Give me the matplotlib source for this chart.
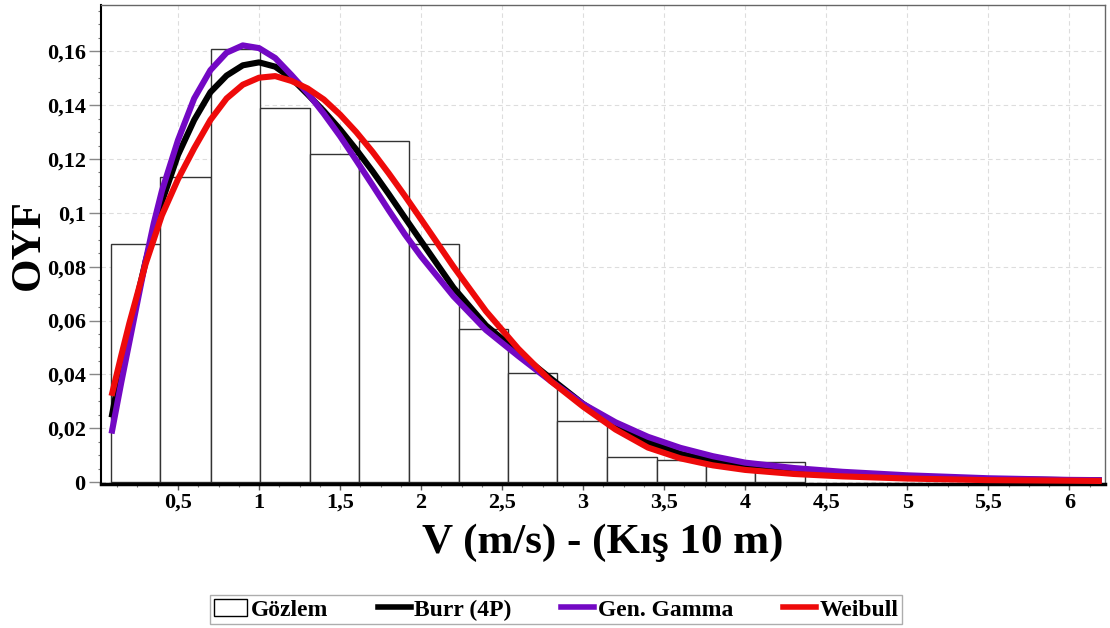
import matplotlib
matplotlib.use("Agg")
import matplotlib.pyplot as plt
from matplotlib.ticker import MultipleLocator, FuncFormatter
from matplotlib.patches import Patch
from matplotlib.lines import Line2D
import numpy as np

plt.rcParams['font.family'] = ['Liberation Serif', 'DejaVu Serif']
plt.rcParams['font.weight'] = 'bold'

# histogram (observed relative frequencies)
bin_edges = [0.086, 0.391, 0.702, 1.008, 1.313, 1.617, 1.928, 2.233,
             2.535, 2.837, 3.146, 3.453, 3.757, 4.062, 4.366]
observed = [0.0886, 0.1133, 0.1609, 0.1390, 0.1218, 0.1267, 0.0886,
            0.0568, 0.0405, 0.0225, 0.0093, 0.0080, 0.0060, 0.0074]

# fitted curves, values
x_fit = [0.09, 0.15, 0.2, 0.25, 0.3, 0.35, 0.4, 0.5, 0.6, 0.7, 0.8, 0.9,
         1.0, 1.1, 1.2, 1.3, 1.4, 1.5, 1.6, 1.7, 1.8, 1.9, 2.0, 2.2, 2.4,
         2.6, 2.8, 3.0, 3.2, 3.4, 3.6, 3.8, 4.0, 4.3, 4.6, 5.0, 5.5, 6.0, 6.2]
burr = [0.024, 0.043, 0.056, 0.069, 0.082, 0.093, 0.104, 0.1215, 0.1345,
        0.1448, 0.1510, 0.1548, 0.1559, 0.1543, 0.1500, 0.1440, 0.1378,
        0.1310, 0.1235, 0.1155, 0.1070, 0.0982, 0.0895, 0.0722, 0.0582,
        0.0482, 0.0385, 0.0290, 0.0210, 0.0148, 0.0105, 0.0077, 0.0058,
        0.0042, 0.0031, 0.0020, 0.0011, 0.0007, 0.0006]
gen_gamma = [0.018, 0.037, 0.052, 0.067, 0.082, 0.096, 0.108, 0.127, 0.1425,
             0.1530, 0.1595, 0.1622, 0.1612, 0.1575, 0.1512, 0.1445, 0.1368,
             0.1285, 0.1195, 0.1103, 0.1010, 0.0920, 0.0838, 0.0690, 0.0565,
             0.0468, 0.0375, 0.0290, 0.0222, 0.0168, 0.0127, 0.0096, 0.0072,
             0.0052, 0.0038, 0.0025, 0.0014, 0.0008, 0.0007]
weibull = [0.032, 0.047, 0.059, 0.070, 0.081, 0.090, 0.099, 0.1125, 0.1240,
           0.1345, 0.1425, 0.1476, 0.1502, 0.1508, 0.1490, 0.1462, 0.1421,
           0.1365, 0.1300, 0.1227, 0.1147, 0.1063, 0.0976, 0.0800, 0.0635,
           0.0495, 0.0375, 0.0280, 0.0195, 0.0128, 0.0088, 0.0062, 0.0045,
           0.0030, 0.0021, 0.0013, 0.0007, 0.0005, 0.0004]

purple = '#7308c4'
red = '#ee0a0a'

fig = plt.figure(figsize=(11.1, 6.28), dpi=100)
ax = fig.add_axes([0.091, 0.229, 0.9045, 0.763])

widths = np.diff(bin_edges)
ax.bar(bin_edges[:-1], observed, width=widths, align='edge',
       facecolor='white', edgecolor='#333333', linewidth=1.0, zorder=2)

lw = 4.4
style = dict(lw=lw, solid_capstyle='butt', solid_joinstyle='round')
ax.plot(x_fit, burr, color='black', zorder=3, **style)
ax.plot(x_fit, gen_gamma, color=purple, zorder=4, **style)
ax.plot(x_fit, weibull, color=red, zorder=5, **style)

ax.set_xlim(0.025, 6.22)
ax.set_ylim(-0.0008, 0.1772)

ax.xaxis.set_major_locator(MultipleLocator(0.5))
ax.xaxis.set_minor_locator(MultipleLocator(0.125))
ax.yaxis.set_major_locator(MultipleLocator(0.02))
ax.yaxis.set_minor_locator(MultipleLocator(0.005))
comma = FuncFormatter(lambda v, p: ('%g' % round(v, 4)).replace('.', ','))
ax.xaxis.set_major_formatter(comma)
ax.yaxis.set_major_formatter(comma)

ax.tick_params(axis='y', which='major', labelsize=16, length=9,
               width=1, color='#888888', pad=2)
ax.tick_params(axis='x', which='major', labelsize=16, length=4,
               width=1, color='#555555', pad=2)
ax.tick_params(axis='both', which='minor', length=2.5, width=0.8, color='#777777')

ax.grid(True, which='major', color='#dddddd', linestyle=(0, (4, 3)), lw=0.8, zorder=0)
ax.set_axisbelow(True)

for s in ['top', 'right']:
    ax.spines[s].set_color('#666666')
    ax.spines[s].set_linewidth(1.0)
ax.spines['left'].set_color('black')
ax.spines['left'].set_linewidth(1.5)
ax.spines['bottom'].set_color('black')
ax.spines['bottom'].set_linewidth(2.5)

ax.set_xlabel('V (m/s) - (Kış 10 m)', fontsize=31, fontweight='bold', labelpad=8)
ax.set_ylabel('OYF', fontsize=31, fontweight='bold')
ax.yaxis.set_label_coords(-0.053, 0.5)

handles = [Patch(facecolor='white', edgecolor='black', linewidth=1.0),
           Line2D([], [], color='black', lw=4),
           Line2D([], [], color=purple, lw=4),
           Line2D([], [], color=red, lw=4)]
labels = ['Gözlem', 'Burr (4P)', 'Gen. Gamma', 'Weibull']
leg = fig.legend(handles, labels, loc='center', bbox_to_anchor=(0.501, 0.029),
                 ncol=4, frameon=True, fancybox=False, edgecolor='#999999',
                 prop={'size': 17, 'weight': 'bold'}, handlelength=1.4,
                 handletextpad=0.15, columnspacing=2.1, borderpad=0.15)
leg.get_frame().set_linewidth(1.0)

fig.savefig('out.png', dpi=100)
